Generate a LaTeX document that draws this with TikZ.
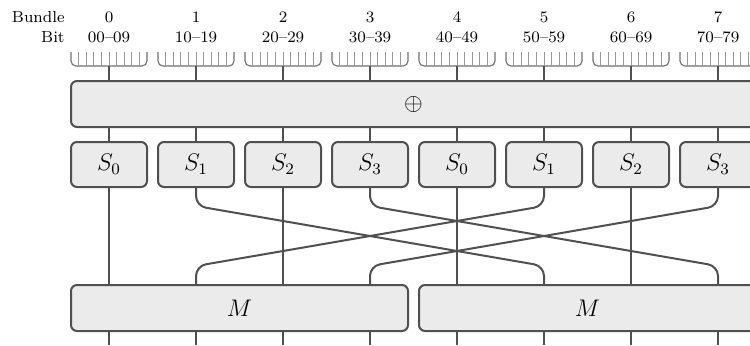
\documentclass[tikz,border=0pt]{standalone}
\usetikzlibrary{calc}
\definecolor{linec}{HTML}{505050}
\definecolor{boxfill}{HTML}{EBEBEB}
\definecolor{brackc}{HTML}{707070}
\definecolor{tickc}{HTML}{999999}
\tikzset{
  wire/.style={draw=linec, line width=1pt},
  box/.style={draw=linec, line width=1pt, fill=boxfill, rounded corners=3pt, inner sep=0pt, font=\large},
  sbox/.style={box, minimum width=38pt, minimum height=22.5pt},
  xbox/.style={box, minimum width=342.5pt, minimum height=23pt},
  mbox/.style={box, minimum width=168.5pt, minimum height=23pt},
  lbl/.style={font=\footnotesize, inner sep=0pt, anchor=base},
  brack/.style={draw=brackc, line width=0.55pt, rounded corners=2.5pt},
  tickline/.style={draw=tickc, line width=0.5pt},
  cross/.style={wire, rounded corners=5pt},
}
\begin{document}
\begin{tikzpicture}[x=0.5pt,y=-0.5pt]
\clip (0,0) rectangle (750,345);
\node[lbl, anchor=base east] (bundlelbl) at (65,22) {Bundle};
\node[lbl, anchor=base east] (bitlbl) at (65,42) {Bit};
\node[xbox] (xor) at (413.5,104) {$\oplus$};
\node[mbox] (m0) at (239.5,308) {$M$};
\node[mbox] (m1) at (587.5,308) {$M$};
\foreach \i in {0,...,7}{
  \pgfmathsetmacro{\cx}{109+87*\i}
  \pgfmathtruncatemacro{\sidx}{mod(\i,4)}
  \node[lbl] (bn\i) at (\cx,22) {\i};
  \node[lbl] (bt\i) at (\cx,42) {\i0--\i9};
  \draw[brack] (\cx-38,52) -- (\cx-38,66) -- (\cx+38,66) -- (\cx+38,52);
  \foreach \k in {1,...,9} \draw[tickline] (\cx-38+7.6*\k,52) -- (\cx-38+7.6*\k,66);
  \coordinate (bb\i) at (\cx,66);
  \coordinate (bot\i) at (\cx,345);
  \node[sbox] (s\i) at (\cx,164.5) {$S_{\sidx}$};
  \draw[wire] (bb\i) -- (bb\i |- xor.north);
  \draw[wire] (s\i.north |- xor.south) -- (s\i.north);
  \draw[wire] (s\i.south |- m0.south) -- (bot\i);
}
\foreach \i in {0,2,4,6}
  \draw[wire] (s\i.south) -- (s\i.south |- m0.north);
\foreach \a/\b in {1/5,3/7,5/1,7/3}
  \draw[cross] (s\a.south) -- ++(0,18) -- ($(s\b.south |- m0.north)+(0,-18)$) -- (s\b.south |- m0.north);
\end{tikzpicture}
\end{document}
